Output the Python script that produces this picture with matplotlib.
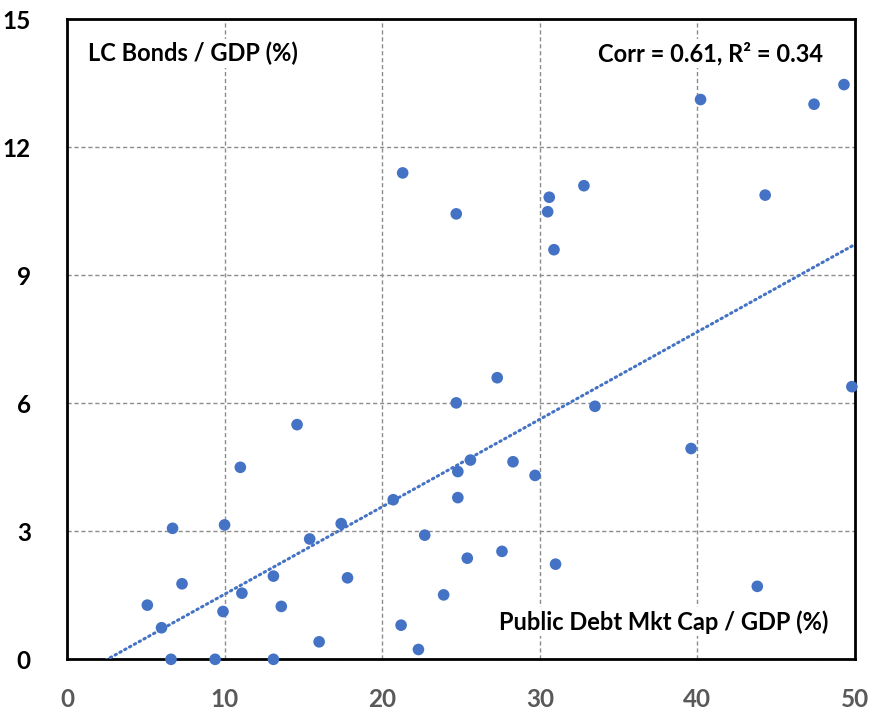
import numpy as np
import matplotlib
matplotlib.use("Agg")
import matplotlib.pyplot as plt

plt.rcParams['font.family'] = ['Lato', 'DejaVu Sans']

# Public debt market cap / GDP (%)
debt_mkt_cap = [21.3, 24.7, 30.6, 30.5, 32.8, 30.9, 40.2, 47.4, 49.3, 44.3,
                5.1, 6.0, 6.6, 6.7, 7.3, 9.4, 9.9, 10.0, 11.0, 11.1,
                13.1, 13.1, 13.6, 14.6, 15.4, 16.0, 17.4, 17.8, 20.7, 21.2,
                22.3, 22.7, 23.9, 24.7, 24.8, 24.8, 25.6, 25.4, 27.3, 27.6,
                28.3, 29.7, 33.5, 31.0, 39.6, 43.8, 49.8]
# Local-currency bonds / GDP (%)
lc_bonds = [11.40, 10.44, 10.83, 10.49, 11.10, 9.60, 13.12, 13.01, 13.47, 10.88,
            1.27, 0.74, 0.0, 3.07, 1.77, 0.0, 1.12, 3.15, 4.50, 1.55,
            0.0, 1.95, 1.24, 5.50, 2.82, 0.41, 3.18, 1.91, 3.74, 0.80,
            0.23, 2.91, 1.51, 6.01, 4.40, 3.79, 4.67, 2.37, 6.60, 2.53,
            4.63, 4.31, 5.93, 2.23, 4.94, 1.71, 6.39]

# linear trend line coefficients (y = slope * x + intercept)
trend_slope = 0.205
trend_intercept = -0.525

x_ticks = [0, 10, 20, 30, 40, 50]
y_ticks = [0, 3, 6, 9, 12, 15]

x = np.array(debt_mkt_cap)
y = np.array(lc_bonds)

fig = plt.figure(figsize=(8.73, 7.10), dpi=100)
ax = fig.add_axes([0.0767, 0.0714, 0.9027, 0.9014])

blue = '#4472C4'

xs = np.array([0, 50])
ax.plot(xs, trend_slope * xs + trend_intercept, linestyle=(0, (0.5, 1.3)),
        color=blue, linewidth=2.2, dash_capstyle='round', zorder=3)

ax.scatter(x, y, s=70, color=blue, edgecolors='none', zorder=4, clip_on=False)

ax.set_xlim(0, 50)
ax.set_ylim(0, 15)
ax.set_xticks(x_ticks)
ax.set_yticks(y_ticks)
ax.tick_params(axis='both', length=0, labelsize=17.5)
ax.tick_params(axis='x', pad=21, labelcolor='#595959')
ax.tick_params(axis='y', pad=26, labelcolor='black')
for lbl in ax.get_xticklabels() + ax.get_yticklabels():
    lbl.set_fontweight('bold')

ax.grid(True, linestyle=(0, (3, 2)), color='#8c8c8c', linewidth=1.0, zorder=0)
ax.set_axisbelow(True)
for sp in ax.spines.values():
    sp.set_linewidth(2)
    sp.set_color('black')

box = dict(facecolor='white', edgecolor='none', pad=2)
ax.text(1.33, 14.2, 'LC Bonds / GDP (%)', fontsize=17, fontweight='bold',
        ha='left', va='center', bbox=box, zorder=5)
ax.text(48.0, 14.2, 'Corr = 0.61, R² = 0.34', fontsize=17, fontweight='bold',
        ha='right', va='center', bbox=box, zorder=5)
ax.text(48.33, 0.88, 'Public Debt Mkt Cap / GDP (%)', fontsize=17, fontweight='bold',
        ha='right', va='center', bbox=box, zorder=5)

fig.savefig('out.png', dpi=100)
